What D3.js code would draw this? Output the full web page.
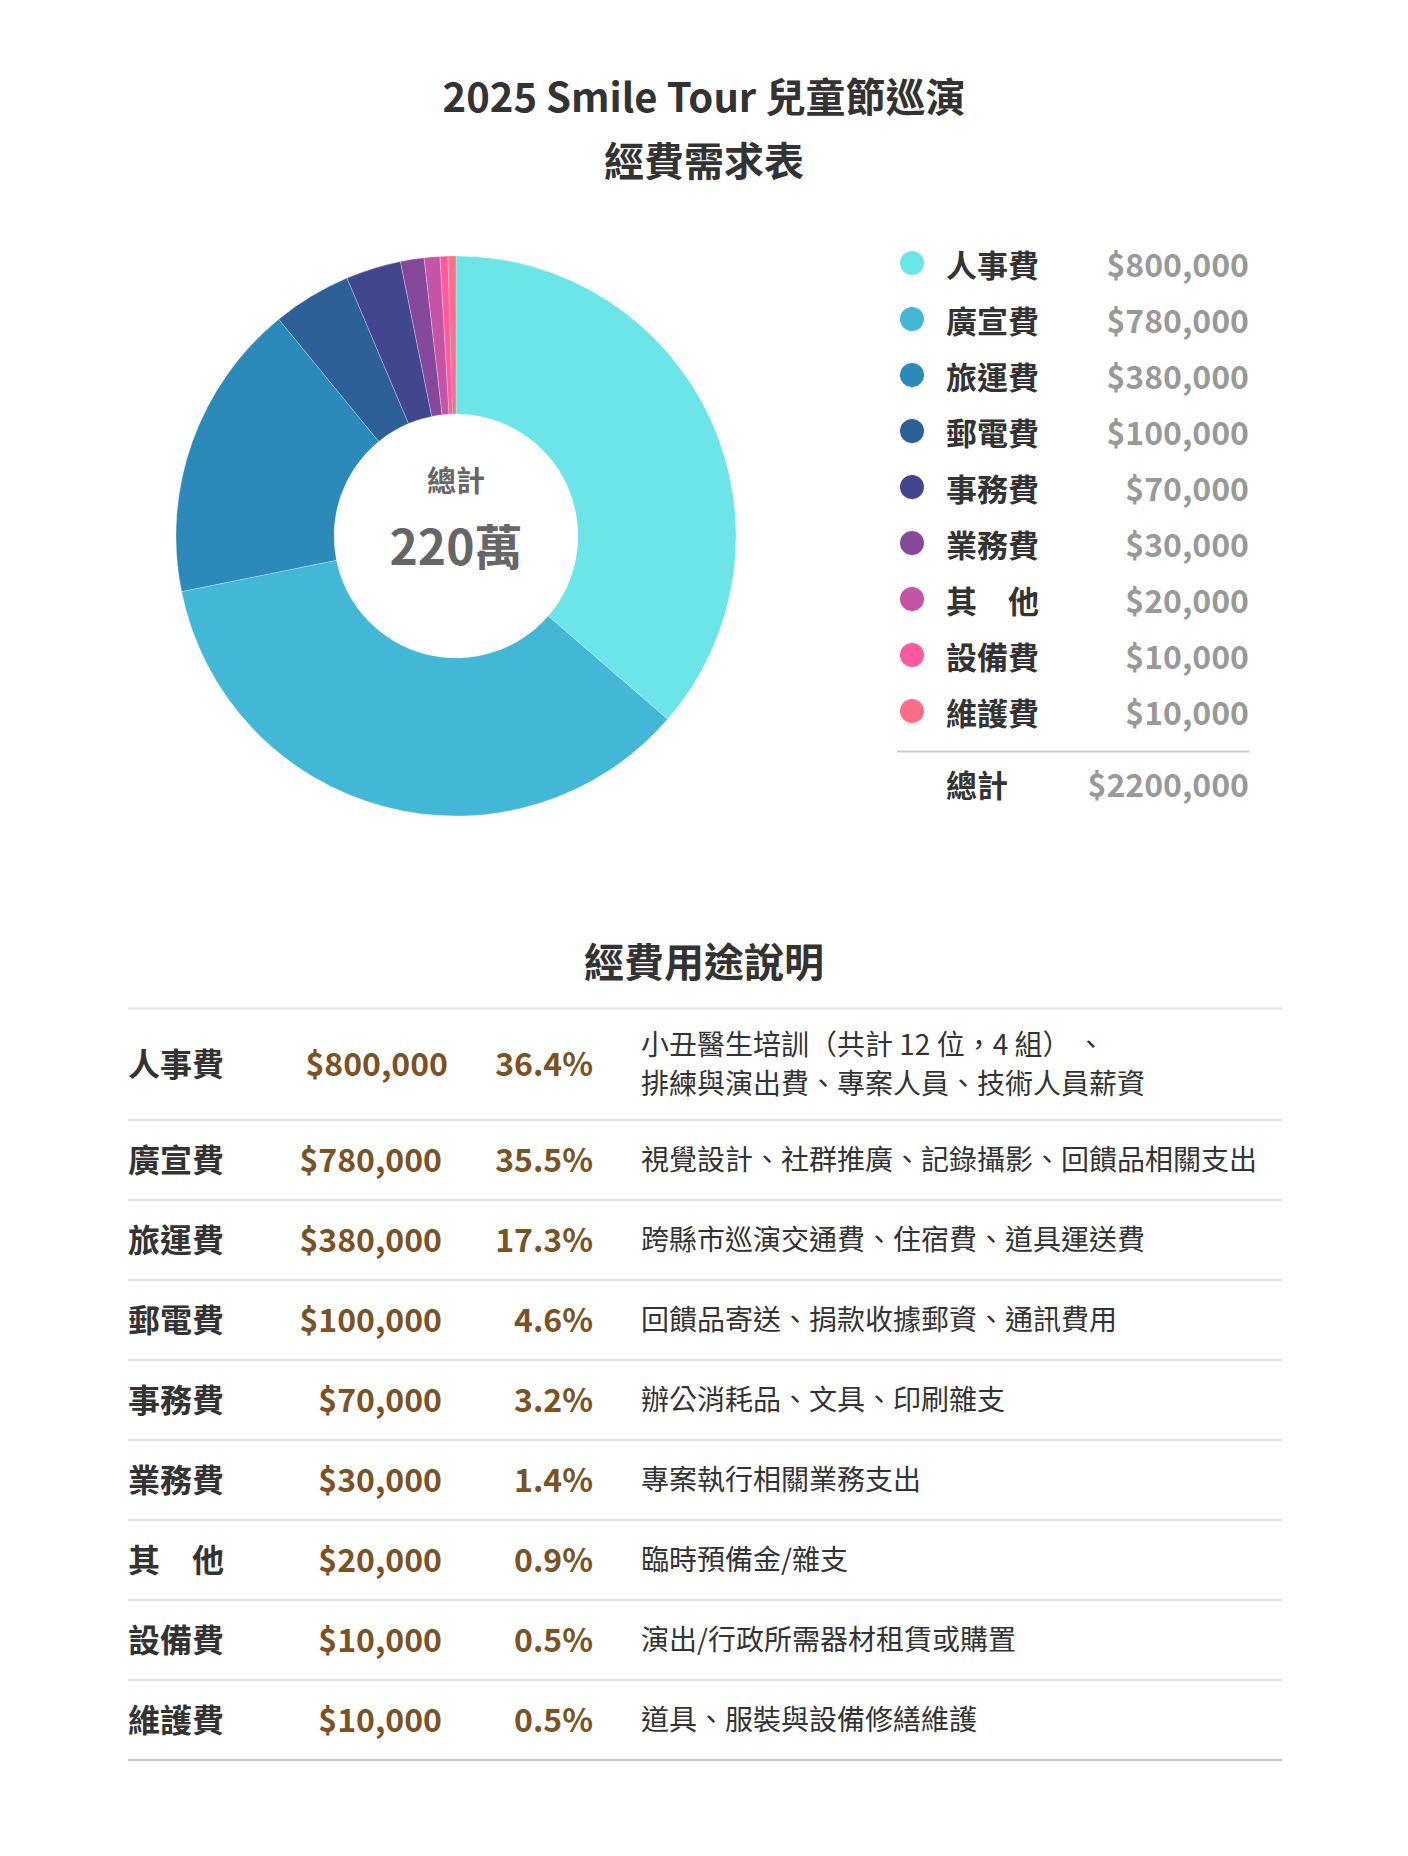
<!DOCTYPE html>
<html>
<head>
<meta charset="utf-8">
<script src="https://cdn.jsdelivr.net/npm/d3@7"></script>
<style>
  body { margin: 0; background: #fff; }
  svg text { font-family: "Noto Sans CJK TC", "Noto Sans", sans-serif; }
</style>
</head>
<body>
<svg id="chart"></svg>
<script>
// budget items
const categories = ["人事費", "廣宣費", "旅運費", "郵電費", "事務費", "業務費", "其　他", "設備費", "維護費"];
const amounts = [800000, 780000, 380000, 100000, 70000, 30000, 20000, 10000, 10000];
const percents = ["36.4%", "35.5%", "17.3%", "4.6%", "3.2%", "1.4%", "0.9%", "0.5%", "0.5%"];
const colors = ["#6ce5e8", "#42b7d6", "#2c8aba", "#2d5f98", "#42468e", "#86489a", "#c553a6", "#ff5a9e", "#ff6e86"];
const descriptions = [
  ["小丑醫生培訓（共計 12 位，4 組） 、", "排練與演出費、專案人員、技術人員薪資"],
  ["視覺設計、社群推廣、記錄攝影、回饋品相關支出"],
  ["跨縣市巡演交通費、住宿費、道具運送費"],
  ["回饋品寄送、捐款收據郵資、通訊費用"],
  ["辦公消耗品、文具、印刷雜支"],
  ["專案執行相關業務支出"],
  ["臨時預備金/雜支"],
  ["演出/行政所需器材租賃或購置"],
  ["道具、服裝與設備修繕維護"]
];
const titleLines = ["2025 Smile Tour 兒童節巡演", "經費需求表"];
const centerLabel = "總計";
const centerValue = "220萬";
const totalLabel = "總計";
const totalValue = "$2200,000";
const tableTitle = "經費用途說明";

const data = categories.map((c, i) => ({
  name: c, amount: amounts[i], pct: percents[i], color: colors[i], desc: descriptions[i]
}));

const W = 1408, H = 1856;
const money = v => "$" + d3.format(",")(v);

const svg = d3.select("#chart")
  .attr("width", W)
  .attr("height", H)
  .style("background-color", "#fff");

//title
svg.append("g").selectAll("text")
  .data(titleLines)
  .enter().append("text")
    .attr("x", W / 2)
    .attr("y", (d, i) => 95 + i * 64)
    .attr("text-anchor", "middle")
    .attr("dominant-baseline", "central")
    .style("font-size", "40px")
    .style("font-weight", 700)
    .style("fill", "#333")
    .text(d => d);

//donut
const cx = 456, cy = 536, outerR = 280, innerR = 122;
const pie = d3.pie().sort(null).value(d => d.amount);
const arc = d3.arc().innerRadius(innerR).outerRadius(outerR);

const donut = svg.append("g").attr("transform", "translate(" + cx + "," + cy + ")");
donut.selectAll("path")
  .data(pie(data))
  .enter().append("path")
    .attr("d", arc)
    .style("fill", d => d.data.color)
    .style("stroke", "rgba(255,255,255,0.35)")
    .style("stroke-width", 0.8);

donut.append("text")
  .attr("y", -57)
  .attr("text-anchor", "middle")
  .attr("dominant-baseline", "central")
  .style("font-size", "29px")
  .style("font-weight", 700)
  .style("fill", "#666")
  .text(centerLabel);

donut.append("text")
  .attr("y", 8)
  .attr("text-anchor", "middle")
  .attr("dominant-baseline", "central")
  .style("font-size", "48px")
  .style("font-weight", 700)
  .style("fill", "#666")
  .text(centerValue);

//legend
const legendY = d3.scaleBand()
  .domain(categories)
  .range([235, 739])
  .paddingInner(0);

const legend = svg.append("g");
const rows = legend.selectAll("g")
  .data(data)
  .enter().append("g")
    .attr("transform", d => "translate(0," + (legendY(d.name) + legendY.bandwidth() / 2) + ")");

rows.append("circle")
  .attr("cx", 912)
  .attr("r", 12)
  .style("fill", d => d.color);

rows.append("text")
  .attr("x", 946)
  .attr("dominant-baseline", "central")
  .style("font-size", "31px")
  .style("font-weight", 700)
  .style("fill", "#333")
  .text(d => d.name);

rows.append("text")
  .attr("x", 1249)
  .attr("text-anchor", "end")
  .attr("dominant-baseline", "central")
  .style("font-size", "32px")
  .style("font-weight", 700)
  .style("fill", "#999")
  .text(d => money(d.amount));

legend.append("line")
  .attr("x1", 897).attr("x2", 1249)
  .attr("y1", 751.5).attr("y2", 751.5)
  .style("stroke", "#ccc")
  .style("stroke-width", 2);

legend.append("text")
  .attr("x", 946)
  .attr("y", 783)
  .attr("dominant-baseline", "central")
  .style("font-size", "31px")
  .style("font-weight", 700)
  .style("fill", "#333")
  .text(totalLabel);

legend.append("text")
  .attr("x", 1249)
  .attr("y", 783)
  .attr("text-anchor", "end")
  .attr("dominant-baseline", "central")
  .style("font-size", "32px")
  .style("font-weight", 700)
  .style("fill", "#999")
  .text(totalValue);

//table
svg.append("text")
  .attr("x", W / 2)
  .attr("y", 960)
  .attr("text-anchor", "middle")
  .attr("dominant-baseline", "central")
  .style("font-size", "40px")
  .style("font-weight", 700)
  .style("fill", "#333")
  .text(tableTitle);

const tableTop = 1008.5, firstRowH = 111.5, rowH = 80;
const rowTop = i => i === 0 ? tableTop : tableTop + firstRowH + (i - 1) * rowH;
const rowHeight = i => i === 0 ? firstRowH : rowH;
const mid = i => rowHeight(i) / 2 - 2;

const table = svg.append("g");

table.append("line")
  .attr("x1", 128).attr("x2", 1282)
  .attr("y1", tableTop).attr("y2", tableTop)
  .style("stroke", "#e3e3e3")
  .style("stroke-width", 2);

const trow = table.selectAll("g.row")
  .data(data)
  .enter().append("g")
    .attr("class", "row")
    .attr("transform", (d, i) => "translate(0," + rowTop(i) + ")");

trow.append("line")
  .attr("x1", 128).attr("x2", 1282)
  .attr("y1", (d, i) => rowHeight(i)).attr("y2", (d, i) => rowHeight(i))
  .style("stroke", (d, i) => i === data.length - 1 ? "#c8c8c8" : "#e3e3e3")
  .style("stroke-width", 2);

trow.append("text")
  .attr("x", 128)
  .attr("y", (d, i) => mid(i))
  .attr("dominant-baseline", "central")
  .style("font-size", "32px")
  .style("font-weight", 700)
  .style("fill", "#333")
  .text(d => d.name);

trow.append("text")
  .attr("x", (d, i) => i === 0 ? 448 : 442)
  .attr("y", (d, i) => mid(i))
  .attr("text-anchor", "end")
  .attr("dominant-baseline", "central")
  .style("font-size", "32px")
  .style("font-weight", 700)
  .style("fill", "#7b5226")
  .text(d => money(d.amount));

trow.append("text")
  .attr("x", 593)
  .attr("y", (d, i) => mid(i))
  .attr("text-anchor", "end")
  .attr("dominant-baseline", "central")
  .style("font-size", "32px")
  .style("font-weight", 700)
  .style("fill", "#7b5226")
  .text(d => d.pct);

trow.each(function(d, i) {
  const g = d3.select(this);
  const n = d.desc.length;
  g.selectAll("text.desc")
    .data(d.desc)
    .enter().append("text")
      .attr("class", "desc")
      .attr("x", 641)
      .attr("y", (t, j) => mid(i) + (j - (n - 1) / 2) * 39)
      .attr("dominant-baseline", "central")
      .style("font-size", "28px")
      .style("font-weight", 400)
      .style("fill", "#333")
      .style("white-space", "pre")
      .text(t => t);
});
</script>
</body>
</html>
